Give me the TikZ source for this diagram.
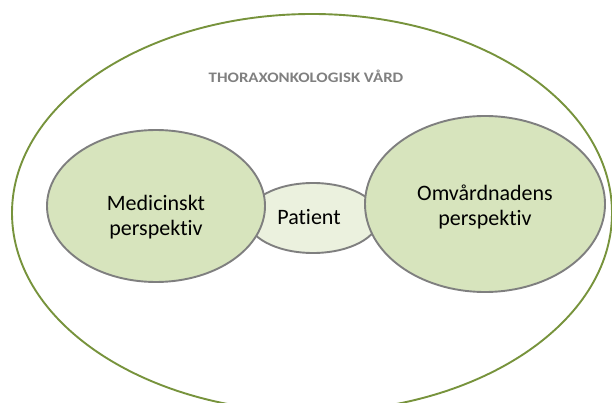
\documentclass[tikz,border=0pt]{standalone}
\usepackage{fontspec}
\setmainfont[Ligatures=NoCommon]{Carlito}
\usetikzlibrary{shapes.geometric}
\definecolor{outergreen}{HTML}{77933C}
\definecolor{bigfill}{HTML}{D7E4BD}
\definecolor{smallfill}{HTML}{EBF1DE}
\definecolor{rimgray}{HTML}{7F7F7F}
\definecolor{titlegray}{HTML}{808080}
\tikzset{
  outer/.style={draw=outergreen, line width=1.9pt, ellipse, inner sep=0pt},
  persp/.style={draw=rimgray, line width=1.9pt, fill=bigfill, ellipse, inner sep=0pt},
  pat/.style={draw=rimgray, line width=1.9pt, fill=smallfill, ellipse, inner sep=0pt},
  body/.style={align=center, font=\fontsize{22}{25.5}\selectfont},
  title/.style={text=titlegray, font=\bfseries\fontsize{14.5}{16}\selectfont}
}
\begin{document}
\begin{tikzpicture}[x=1pt,y=-1pt]
\useasboundingbox (0,0) rectangle (612,403);
\node[outer, minimum width=600pt, minimum height=398pt] (outer) at (312,213) {};
\node[title] (title) at (306,76) {\scalebox{1.16}[1]{THORAXONKOLOGISK VÅRD}};
\node[pat, minimum width=132pt, minimum height=70pt] (patient) at (313,218) {};
\node[persp, minimum width=218pt, minimum height=152pt] (med) at (156,206) {};
\node[persp, minimum width=240pt, minimum height=176pt] (omv) at (485,204) {};
\node[body] (pattext) at (309,217) {Patient};
\node[body] (medtext) at (156,217) {Medicinskt\\perspektiv};
\node[body] (omvtext) at (485,207) {Omvårdnadens\\perspektiv};
\end{tikzpicture}
\end{document}
